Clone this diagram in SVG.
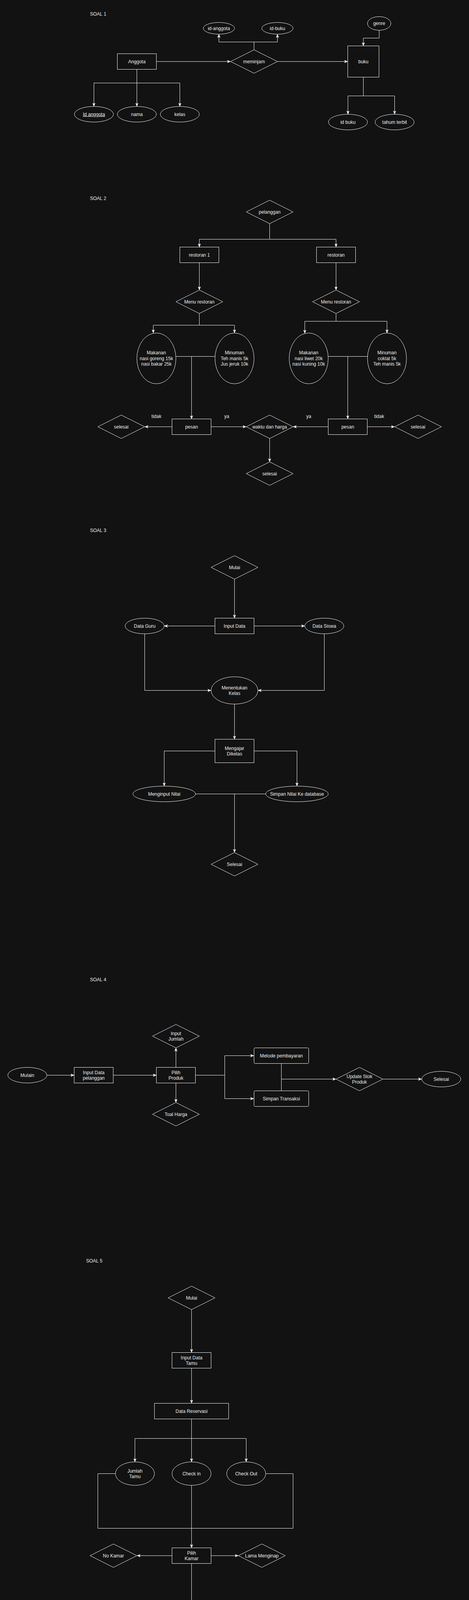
<svg xmlns="http://www.w3.org/2000/svg" width="1201" height="4503" viewBox="0 0 1201 4503">
<style>
.n{fill:#121212;stroke:#ffffff;stroke-width:1}
.c{fill:none;stroke:#ffffff;stroke-width:1}
.a{marker-end:url(#arr)}
text{font-family:"Liberation Sans",Arial,sans-serif;font-size:12px;fill:#f0f0f0;text-anchor:middle}
.l{text-anchor:start}
</style>
<defs>
<marker id="arr" markerUnits="userSpaceOnUse" markerWidth="9" markerHeight="9" viewBox="0 0 10 10" refX="10" refY="5" orient="auto">
<path d="M0,1 L10,5 L0,9 L3,5 Z" fill="#ffffff" stroke="#ffffff" stroke-width="0.5"/>
</marker>
</defs>
<rect x="0" y="0" width="1201" height="4503" fill="#121212"/>

<g id="titles">
<text class="l" x="230.5" y="40">SOAL 1</text>
<text class="l" x="230.5" y="512">SOAL 2</text>
<text class="l" x="230.5" y="1362">SOAL 3</text>
<text class="l" x="230.5" y="2512">SOAL 4</text>
<text class="l" x="220.5" y="3232">SOAL 5</text>
</g>

<g id="connectors">
<!-- SOAL 1 -->
<path class="c a" d="M400.5,157.5 H590.5"/>
<path class="c a" d="M710.5,157.5 H890.5"/>
<path class="c a" d="M650.5,127.5 V107.5 H560.5 V87.5"/>
<path class="c a" d="M650.5,107.5 H710.5 V87.5"/>
<path class="c a" d="M971,77.5 V97.5 H930.5 V117.5"/>
<path class="c a" d="M930.5,197.5 V245.5 H891 V292.5"/>
<path class="c a" d="M930.5,245.5 H1010.5 V292.5"/>
<path class="c a" d="M350.5,177.5 V212.5 H240.5 V272.5"/>
<path class="c a" d="M350.5,212.5 V272.5"/>
<path class="c a" d="M350.5,212.5 H460.5 V272.5"/>
<!-- SOAL 2 -->
<path class="c a" d="M690.5,572.5 V612.5 H510.5 V632.5"/>
<path class="c a" d="M690.5,612.5 H860.5 V632.5"/>
<path class="c a" d="M510.5,672.5 V742.5"/>
<path class="c a" d="M860.5,672.5 V742.5"/>
<path class="c a" d="M510.5,802.5 V832.5 H392.5 V852.5"/>
<path class="c a" d="M510.5,832.5 H600.5 V852.5"/>
<path class="c a" d="M860.5,802.5 V822.5 H780.5 V853.5"/>
<path class="c a" d="M860.5,822.5 H991 V852.5"/>
<path class="c" d="M450.5,912.5 H550.5"/>
<path class="c a" d="M490.5,912.5 V1072.5"/>
<path class="c" d="M840.5,912.5 H941"/>
<path class="c a" d="M890.5,912.5 V1072.5"/>
<path class="c a" d="M440.5,1092.5 H370.5"/>
<path class="c a" d="M540.5,1092.5 H630.5"/>
<path class="c a" d="M840.5,1092.5 H750.5"/>
<path class="c a" d="M940.5,1092.5 H1010.5"/>
<path class="c a" d="M690.5,1122.5 V1182.5"/>
<!-- SOAL 3 -->
<path class="c a" d="M600.5,1482.5 V1582.5"/>
<path class="c a" d="M550.5,1602.5 H420.5"/>
<path class="c a" d="M650.5,1602.5 H780.5"/>
<path class="c a" d="M370.5,1622.5 V1767.5 H540.5"/>
<path class="c a" d="M830.5,1622.5 V1767.5 H660.5"/>
<path class="c a" d="M600.5,1802.5 V1892.5"/>
<path class="c a" d="M550.5,1922.5 H420.5 V2012.5"/>
<path class="c a" d="M650.5,1922.5 H760.5 V2012.5"/>
<path class="c" d="M500.5,2032.5 H680.5"/>
<path class="c a" d="M600.5,2032.5 V2182.5"/>
<!-- SOAL 4 -->
<path class="c a" d="M120,2752.5 H190"/>
<path class="c a" d="M290,2752.5 H400.5"/>
<path class="c a" d="M450.5,2732.5 V2682.5"/>
<path class="c a" d="M450.5,2772.5 V2822.5"/>
<path class="c a" d="M500.5,2752.5 H575.5 V2702.5 H650"/>
<path class="c a" d="M575.5,2752.5 V2812.5 H650"/>
<path class="c" d="M720.5,2722.5 V2792.5"/>
<path class="c a" d="M720.5,2762.5 H860.5"/>
<path class="c a" d="M980.5,2762.5 H1080"/>
<!-- SOAL 5 -->
<path class="c a" d="M490.5,3352.5 V3462.5"/>
<path class="c a" d="M490.5,3502.5 V3592.5"/>
<path class="c a" d="M490.5,3632.5 V3742.5"/>
<path class="c a" d="M490.5,3682.5 H345.5 V3742.5"/>
<path class="c a" d="M490.5,3682.5 H630.5 V3742.5"/>
<path class="c" d="M295.5,3772.5 H250.5 V3912.5 H750.5 V3772.5 H680.5"/>
<path class="c a" d="M490.5,3802.5 V3962.5"/>
<path class="c a" d="M440.5,3982.5 H350.5"/>
<path class="c a" d="M540.5,3982.5 H610.5"/>
<path class="c a" d="M490.5,4002.5 V4112.5"/>
<path class="c a" d="M440.5,4147.5 H340.5 V4232.5"/>
<path class="c a" d="M540.5,4147.5 H620.5 V4232.5"/>
<path class="c" d="M390.5,4252.5 H570.5"/>
<path class="c a" d="M480.5,4252.5 V4422.5"/>
</g>

<!-- SOAL 1 nodes -->
<g id="s1-anggota"><rect class="n" x="300.5" y="137.5" width="100" height="40"/><text x="350.5" y="161.5">Anggota</text></g>
<g id="s1-meminjam"><polygon class="n" points="590.5,157.5 650.5,127.5 710.5,157.5 650.5,187.5"/><text x="650.5" y="161.5">meminjam</text></g>
<g id="s1-buku"><rect class="n" x="890.5" y="117.5" width="80" height="80"/><text x="930.5" y="161.5">buku</text></g>
<g id="s1-idanggota"><ellipse class="n" cx="560.5" cy="72.5" rx="40" ry="15"/><text x="560.5" y="76.5">id-anggota</text></g>
<g id="s1-idbuku"><ellipse class="n" cx="710.5" cy="72.5" rx="40" ry="15"/><text x="710.5" y="76.5">id-buku</text></g>
<g id="s1-genre"><ellipse class="n" cx="971" cy="60" rx="30" ry="17.5"/><text x="971" y="64">genre</text></g>
<g id="s1-idbuku2"><ellipse class="n" cx="891" cy="312.5" rx="50" ry="20"/><text x="891" y="316.5">id buku</text></g>
<g id="s1-tahun"><ellipse class="n" cx="1010.5" cy="312.5" rx="50" ry="20"/><text x="1010.5" y="316.5">tahum terbit</text></g>
<g id="s1-idang"><ellipse class="n" cx="240.5" cy="292.5" rx="50" ry="20"/><text x="240.5" y="296.5" text-decoration="underline">Id anggota</text></g>
<g id="s1-nama"><ellipse class="n" cx="350.5" cy="292.5" rx="50" ry="20"/><text x="350.5" y="296.5">nama</text></g>
<g id="s1-kelas"><ellipse class="n" cx="460.5" cy="292.5" rx="50" ry="20"/><text x="460.5" y="296.5">kelas</text></g>

<!-- SOAL 2 nodes -->
<g id="s2-pelanggan"><polygon class="n" points="630.5,542.5 690.5,512.5 750.5,542.5 690.5,572.5"/><text x="690.5" y="546.5">pelanggan</text></g>
<g id="s2-restoran1"><rect class="n" x="460.5" y="632.5" width="100" height="40"/><text x="510.5" y="656.5">restoran 1</text></g>
<g id="s2-restoran"><rect class="n" x="810.5" y="632.5" width="100" height="40"/><text x="860.5" y="656.5">restoran</text></g>
<g id="s2-menu1"><polygon class="n" points="450.5,772.5 510.5,742.5 570.5,772.5 510.5,802.5"/><text x="510.5" y="776.5">Menu restoran</text></g>
<g id="s2-menu2"><polygon class="n" points="800.5,772.5 860.5,742.5 920.5,772.5 860.5,802.5"/><text x="860.5" y="776.5">Menu restoran</text></g>
<g id="s2-makanan1"><ellipse class="n" cx="400.5" cy="917.5" rx="50" ry="65"/><text x="400.5" y="907">Makanan</text><text x="400.5" y="921.5">nasi goreng 15k</text><text x="400.5" y="936">nasi bakar 25k</text></g>
<g id="s2-minuman1"><ellipse class="n" cx="600.5" cy="917.5" rx="50" ry="65"/><text x="600.5" y="907">Minuman</text><text x="600.5" y="921.5">Teh manis 5k</text><text x="600.5" y="936">Jus jeruk 10k</text></g>
<g id="s2-makanan2"><ellipse class="n" cx="790.5" cy="917.5" rx="50" ry="65"/><text x="790.5" y="907">Makanan</text><text x="790.5" y="921.5">nasi liwet 20k</text><text x="790.5" y="936">nasi kuning 10k</text></g>
<g id="s2-minuman2"><ellipse class="n" cx="991" cy="917.5" rx="50" ry="65"/><text x="991" y="907">Minuman</text><text x="991" y="921.5">coklat 5k</text><text x="991" y="936">Teh manis 5k</text></g>
<g id="s2-pesan1"><rect class="n" x="440.5" y="1072.5" width="100" height="40"/><text x="490.5" y="1096.5">pesan</text></g>
<g id="s2-pesan2"><rect class="n" x="840.5" y="1072.5" width="100" height="40"/><text x="890.5" y="1096.5">pesan</text></g>
<g id="s2-selesai1"><polygon class="n" points="250.5,1092.5 310.5,1062.5 370.5,1092.5 310.5,1122.5"/><text x="310.5" y="1096.5">selesai</text></g>
<g id="s2-waktu"><polygon class="n" points="630.5,1092.5 690.5,1062.5 750.5,1092.5 690.5,1122.5"/><text x="690.5" y="1096.5">waktu dan harga</text></g>
<g id="s2-selesai2"><polygon class="n" points="1010.5,1092.5 1070.5,1062.5 1130.5,1092.5 1070.5,1122.5"/><text x="1070.5" y="1096.5">selesai</text></g>
<g id="s2-selesai3"><polygon class="n" points="630.5,1212.5 690.5,1182.5 750.5,1212.5 690.5,1242.5"/><text x="690.5" y="1216.5">selesai</text></g>
<g id="s2-labels"><text x="400.5" y="1070">tidak</text><text x="580.5" y="1070">ya</text><text x="790.5" y="1070">ya</text><text x="971" y="1070">tidak</text></g>

<!-- SOAL 3 nodes -->
<g id="s3-mulai"><polygon class="n" points="540.5,1452.5 600.5,1422.5 660.5,1452.5 600.5,1482.5"/><text x="600.5" y="1456.5">Mulai</text></g>
<g id="s3-input"><rect class="n" x="550.5" y="1582.5" width="100" height="40"/><text x="600.5" y="1606.5">Input Data</text></g>
<g id="s3-guru"><ellipse class="n" cx="370.5" cy="1602.5" rx="50" ry="20"/><text x="370.5" y="1606.5">Data Guru</text></g>
<g id="s3-siswa"><ellipse class="n" cx="830.5" cy="1602.5" rx="50" ry="20"/><text x="830.5" y="1606.5">Data Siswa</text></g>
<g id="s3-kelas"><ellipse class="n" cx="600.5" cy="1767.5" rx="60" ry="35"/><text x="600.5" y="1764.5">Menentukan</text><text x="600.5" y="1779">Kelas</text></g>
<g id="s3-mengajar"><rect class="n" x="550.5" y="1892.5" width="100" height="60"/><text x="600.5" y="1919.5">Mengajar</text><text x="600.5" y="1934">Dikelas</text></g>
<g id="s3-nilai"><ellipse class="n" cx="420.5" cy="2032.5" rx="80" ry="20"/><text x="420.5" y="2036.5">Menginput Nilai</text></g>
<g id="s3-simpan"><ellipse class="n" cx="760.5" cy="2032.5" rx="80" ry="20"/><text x="760.5" y="2036.5">Simpan Nilai Ke database</text></g>
<g id="s3-selesai"><polygon class="n" points="540.5,2212.5 600.5,2182.5 660.5,2212.5 600.5,2242.5"/><text x="600.5" y="2216.5">Selesai</text></g>

<!-- SOAL 4 nodes -->
<g id="s4-mulain"><ellipse class="n" cx="70" cy="2752.5" rx="50" ry="20"/><text x="70" y="2756.5">Mulain</text></g>
<g id="s4-input"><rect class="n" x="190" y="2732.5" width="100" height="40"/><text x="240" y="2749.5">Input Data</text><text x="240" y="2764">pelanggan</text></g>
<g id="s4-pilih"><rect class="n" x="400.5" y="2732.5" width="100" height="40"/><text x="450.5" y="2749.5">Pilih</text><text x="450.5" y="2764">Produk</text></g>
<g id="s4-jumlah"><polygon class="n" points="390.5,2652.5 450.5,2622.5 510.5,2652.5 450.5,2682.5"/><text x="450.5" y="2649.5">Input</text><text x="450.5" y="2664">Jumlah</text></g>
<g id="s4-harga"><polygon class="n" points="390.5,2852.5 450.5,2822.5 510.5,2852.5 450.5,2882.5"/><text x="450.5" y="2856.5">Toal Harga</text></g>
<g id="s4-metode"><rect class="n" x="650.5" y="2682.5" width="140" height="40" rx="3"/><text x="720.5" y="2706.5">Metode pembayaran</text></g>
<g id="s4-transaksi"><rect class="n" x="650.5" y="2792.5" width="140" height="40" rx="3"/><text x="720.5" y="2816.5">Simpan Transaksi</text></g>
<g id="s4-update"><polygon class="n" points="860.5,2762.5 920.5,2732.5 980.5,2762.5 920.5,2792.5"/><text x="920.5" y="2759.5">Update Stok</text><text x="920.5" y="2774">Produk</text></g>
<g id="s4-selesai"><ellipse class="n" cx="1130" cy="2762.5" rx="50" ry="20"/><text x="1130" y="2766.5">Selesai</text></g>

<!-- SOAL 5 nodes -->
<g id="s5-mulai"><polygon class="n" points="430.5,3322.5 490.5,3292.5 550.5,3322.5 490.5,3352.5"/><text x="490.5" y="3326.5">Mulai</text></g>
<g id="s5-input"><rect class="n" x="440.5" y="3462.5" width="100" height="40"/><text x="490.5" y="3479.5">Input Data</text><text x="490.5" y="3494">Tamu</text></g>
<g id="s5-reservasi"><rect class="n" x="395.5" y="3592.5" width="190" height="40"/><text x="490.5" y="3616.5">Data Reservasi</text></g>
<g id="s5-jumlah"><ellipse class="n" cx="345.5" cy="3772.5" rx="50" ry="30"/><text x="345.5" y="3769.5">Jumlah</text><text x="345.5" y="3784">Tamu</text></g>
<g id="s5-checkin"><ellipse class="n" cx="490.5" cy="3772.5" rx="50" ry="30"/><text x="490.5" y="3776.5">Check in</text></g>
<g id="s5-checkout"><ellipse class="n" cx="630.5" cy="3772.5" rx="50" ry="30"/><text x="630.5" y="3776.5">Check Out</text></g>
<g id="s5-pilih"><rect class="n" x="440.5" y="3962.5" width="100" height="40"/><text x="490.5" y="3979.5">Pilih</text><text x="490.5" y="3994">Kamar</text></g>
<g id="s5-nokamar"><polygon class="n" points="230.5,3982.5 290.5,3952.5 350.5,3982.5 290.5,4012.5"/><text x="290.5" y="3986.5">No Kamar</text></g>
<g id="s5-lama"><polygon class="n" points="610.5,3982.5 670.5,3952.5 730.5,3982.5 670.5,4012.5"/><text x="670.5" y="3986.5">Lama Menginap</text></g>
<g id="s5-biaya"><ellipse class="n" cx="490.5" cy="4147.5" rx="50" ry="35"/><text x="490.5" y="4151.5">Biaya Total</text></g>
<g id="s5-simpan"><rect class="n" x="290.5" y="4232.5" width="100" height="40"/><text x="340.5" y="4249.5">SImpan</text><text x="340.5" y="4264">Detail</text></g>
<g id="s5-update"><rect class="n" x="570.5" y="4232.5" width="100" height="40"/><text x="620.5" y="4249.5">Update Status</text><text x="620.5" y="4264">Kamar</text></g>
<g id="s5-selesai"><polygon class="n" points="420.5,4452.5 480.5,4422.5 540.5,4452.5 480.5,4482.5"/><text x="480.5" y="4456.5">Selesai</text></g>
</svg>
